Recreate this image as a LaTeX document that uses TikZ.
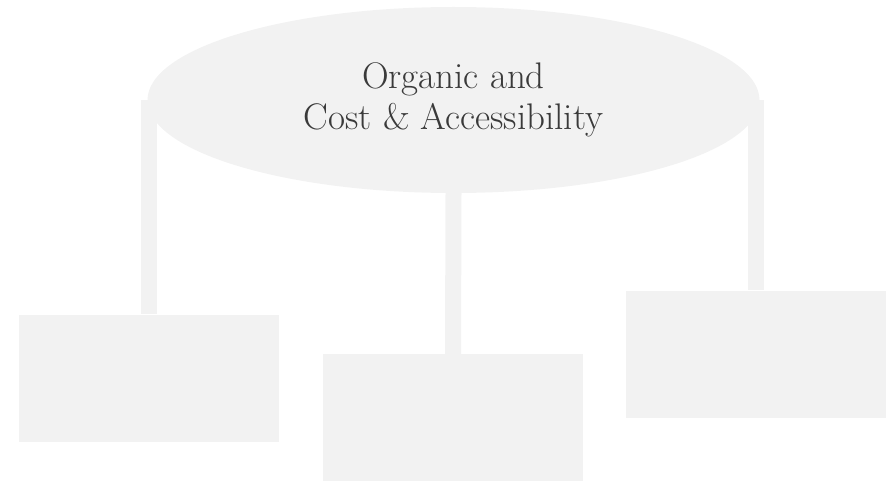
\documentclass[tikz,border=0pt]{standalone}
\usetikzlibrary{shapes.geometric}
\definecolor{boxgray}{HTML}{F2F2F2}
\definecolor{textgray}{HTML}{3A3A3A}
\begin{document}
\begin{tikzpicture}[x=1pt, y=-1pt,
  topic/.style={ellipse, fill=boxgray, inner sep=0pt, minimum width=612pt, minimum height=186pt, text=textgray, align=center, font=\fontsize{37}{41}\selectfont},
  leaf/.style={rectangle, fill=boxgray, inner sep=0pt, minimum width=260pt, minimum height=127pt},
  link/.style={draw=boxgray, line width=16pt}]
% Fix the page size
\useasboundingbox (0, 0) rectangle (894, 481);

% Draw the ellipse and the boxes
\node[topic] (root) at (453.5, 100) {Organic and\\Cost \& Accessibility};
\node[leaf] (boxL) at (149, 378) {};
\node[leaf] (boxM) at (453, 417.5) {};
\node[leaf] (boxR) at (756, 354) {};

% Connect them
\draw[link] (boxL.north |- root.west) -- (boxL.north);
\draw[link] (root.south) -- (boxM.north);
\draw[link] (boxR.north |- root.east) -- (boxR.north);
\end{tikzpicture}
\end{document}
